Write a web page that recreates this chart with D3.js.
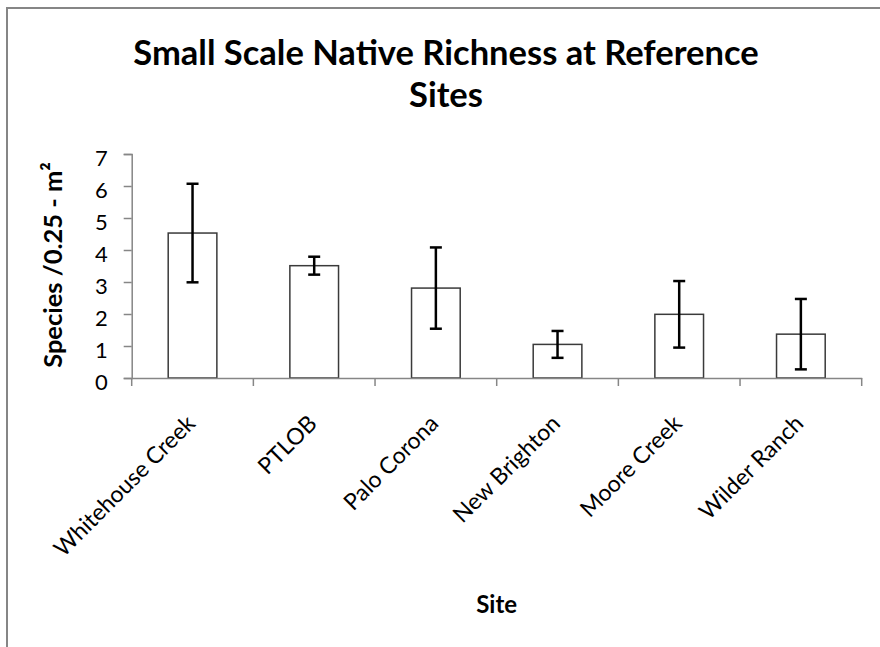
<!DOCTYPE html>
<html>
<head>
<meta charset="utf-8">
<script src="https://cdn.jsdelivr.net/npm/d3@7"></script>
<style>
  body { margin: 0; background: #fff; }
  svg text { font-family: Lato, "Open Sans", sans-serif; fill: #000; }
</style>
</head>
<body>
<svg id="chart" width="880" height="647"></svg>
<script>
//data
var sites = ["Whitehouse Creek", "PTLOB", "Palo Corona", "New Brighton", "Moore Creek", "Wilder Ranch"];
var means = [4.53, 3.51, 2.81, 1.05, 1.99, 1.37];
var errors = [1.54, 0.28, 1.27, 0.42, 1.04, 1.1];
var yTicks = [0, 1, 2, 3, 4, 5, 6, 7];

var titleLines = ["Small Scale Native Richness at Reference", "Sites"];
var yTitle = "Species /0.25 - m²";
var xTitle = "Site";

//basic layout
var axisColor = "#868686"
	barStroke = "#3a3a3a"
	errColor = "#000000"

var margin = {left: 131.7, right: 18.3, top: 154, bottom: 269};
var svg = d3.select("#chart");
var width = 880 - margin.left - margin.right;
	height = 647 - margin.top - margin.bottom;

var data = sites.map(function(s, i){
	return {site: s, mean: means[i], err: errors[i]};
});

//outer chart frame (runs off the right and bottom of the picture)
svg.append("rect")
	.attr("x", 0).attr("y", 0)
	.attr("width", 880).attr("height", 647)
	.attr("fill", "#fff");
svg.append("rect")
	.attr("x", 7).attr("y", 8)
	.attr("width", 900).attr("height", 700)
	.attr("fill", "none")
	.attr("stroke", axisColor)
	.attr("stroke-width", 2);

//title
svg.append("text")
	.attr("text-anchor", "middle")
	.attr("font-weight", "bold")
	.attr("font-size", "34.5px")
	.selectAll("tspan")
	.data(titleLines)
	.enter().append("tspan")
	.attr("x", 446)
	.attr("y", function(d, i){ return 65 + i * 42; })
	.text(function(d){ return d; });

var g = svg.append("g")
	.attr("transform", "translate(" + margin.left + "," + margin.top + ")");

var x = d3.scaleBand()
	.domain(sites)
	.range([0, width])
	.padding(0);

var y = d3.scaleLinear()
	.domain([0, 7])
	.range([height, 0]);

//y axis
var yAxis = g.append("g")
	.call(d3.axisLeft(y).tickValues(yTicks).tickFormat(d3.format("d")).tickSize(8).tickPadding(16));
yAxis.select(".domain").attr("stroke", axisColor).attr("stroke-width", 1.5);
yAxis.selectAll(".tick line").attr("stroke", axisColor).attr("stroke-width", 1.5);
yAxis.selectAll(".tick text")
	.attr("font-size", "22px")
	.attr("font-family", "Lato, sans-serif")
	.attr("dy", "0.52em");

//bars
var barW = x.bandwidth() * 0.4;
g.selectAll(".bar")
	.data(data)
	.enter().append("rect")
	.attr("class", "bar")
	.attr("x", function(d){ return x(d.site) + (x.bandwidth() - barW) / 2; })
	.attr("y", function(d){ return y(d.mean); })
	.attr("width", barW)
	.attr("height", function(d){ return y(0) - y(d.mean); })
	.attr("fill", "#fff")
	.attr("stroke", barStroke)
	.attr("stroke-width", 1.5);

//x axis: line, boundary ticks, rotated labels
var xAxis = g.append("g")
	.attr("transform", "translate(0," + height + ")")
	.call(d3.axisBottom(x).tickSize(0).tickSizeOuter(0));
xAxis.select(".domain").attr("stroke", axisColor).attr("stroke-width", 1.5);
xAxis.selectAll(".tick text")
	.attr("font-size", "23px")
	.attr("font-family", "Lato, sans-serif")
	.attr("x", 0).attr("y", 0).attr("dy", 0)
	.attr("text-anchor", "end")
	.attr("transform", "translate(4,47) rotate(-45)");

var bounds = sites.map(function(s){ return x(s); }).concat([width]);
xAxis.selectAll(".bound")
	.data(bounds)
	.enter().append("line")
	.attr("class", "bound")
	.attr("x1", function(d){ return d; })
	.attr("x2", function(d){ return d; })
	.attr("y1", 0).attr("y2", 8)
	.attr("stroke", axisColor)
	.attr("stroke-width", 1.5);

//error bars
var capW = 12;
var errG = g.selectAll(".err")
	.data(data)
	.enter().append("g")
	.attr("class", "err")
	.attr("stroke", errColor)
	.attr("stroke-width", 2.5);
errG.append("line")
	.attr("x1", function(d){ return x(d.site) + x.bandwidth() / 2; })
	.attr("x2", function(d){ return x(d.site) + x.bandwidth() / 2; })
	.attr("y1", function(d){ return y(d.mean + d.err); })
	.attr("y2", function(d){ return y(d.mean - d.err); });
errG.append("line")
	.attr("x1", function(d){ return x(d.site) + x.bandwidth() / 2 - capW / 2; })
	.attr("x2", function(d){ return x(d.site) + x.bandwidth() / 2 + capW / 2; })
	.attr("y1", function(d){ return y(d.mean + d.err); })
	.attr("y2", function(d){ return y(d.mean + d.err); });
errG.append("line")
	.attr("x1", function(d){ return x(d.site) + x.bandwidth() / 2 - capW / 2; })
	.attr("x2", function(d){ return x(d.site) + x.bandwidth() / 2 + capW / 2; })
	.attr("y1", function(d){ return y(d.mean - d.err); })
	.attr("y2", function(d){ return y(d.mean - d.err); });

//axis titles
svg.append("text")
	.attr("transform", "translate(62,265) rotate(-90)")
	.attr("text-anchor", "middle")
	.attr("font-weight", "bold")
	.attr("font-size", "25.5px")
	.text(yTitle);

svg.append("text")
	.attr("x", margin.left + width / 2)
	.attr("y", 613)
	.attr("text-anchor", "middle")
	.attr("font-weight", "bold")
	.attr("font-size", "24px")
	.text(xTitle);
</script>
</body>
</html>
